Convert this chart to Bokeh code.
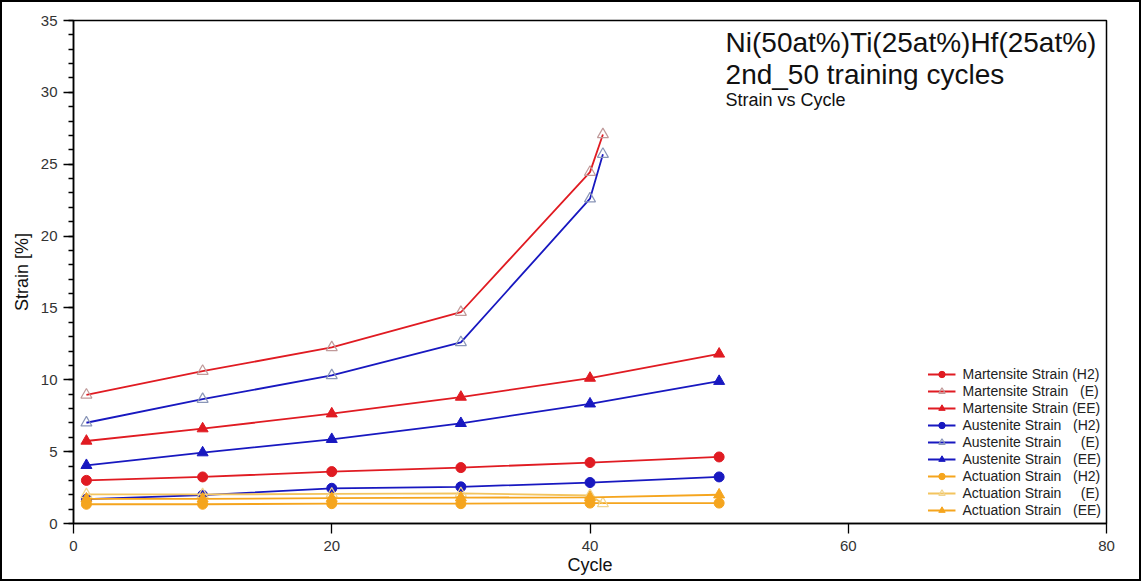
from bokeh.plotting import figure
from bokeh.models import (Range1d, FixedTicker, SingleIntervalTicker, Legend, LegendItem,
                          Label)
from bokeh.layouts import column
from bokeh.embed import file_html
from bokeh.resources import INLINE

# ---------------- data ----------------
cycles_full = [1, 10, 20, 30, 40, 50]
cycles_e = [1, 10, 20, 30, 40, 41]

mart_h2 = [3.0, 3.24, 3.61, 3.89, 4.24, 4.63]
mart_e = [8.95, 10.6, 12.25, 14.7, 24.45, 27.07]
mart_ee = [5.74, 6.6, 7.64, 8.8, 10.12, 11.8]

aust_h2 = [1.69, 1.97, 2.45, 2.55, 2.85, 3.24]
aust_e = [7.01, 8.65, 10.3, 12.6, 22.6, 25.7]
aust_ee = [4.05, 4.93, 5.86, 6.97, 8.33, 9.9]

act_h2 = [1.34, 1.34, 1.38, 1.38, 1.42, 1.42]
act_e = [2.02, 2.02, 2.06, 2.1, 1.95, 1.39]
act_ee = [1.72, 1.72, 1.76, 1.8, 1.82, 2.0]

legend_labels = [
    "Martensite Strain (H2)",
    "Martensite Strain\u00a0\u00a0\u00a0(E)",
    "Martensite Strain (EE)",
    "Austenite Strain\u00a0\u00a0\u00a0(H2)",
    "Austenite Strain\u00a0\u00a0\u00a0\u00a0\u00a0(E)",
    "Austenite Strain\u00a0\u00a0\u00a0(EE)",
    "Actuation Strain\u00a0\u00a0\u00a0(H2)",
    "Actuation Strain\u00a0\u00a0\u00a0\u00a0\u00a0(E)",
    "Actuation Strain\u00a0\u00a0\u00a0(EE)",
]

title_lines = ["Ni(50at%)Ti(25at%)Hf(25at%)", "2nd_50 training cycles", "Strain vs Cycle"]
x_ticks = [0, 20, 40, 60, 80]

FONT = "Liberation Sans"
RED = "#E01B22"
BLUE = "#1818C0"
ORANGE = "#F5A51E"
ORANGE_LIGHT = "#F3C45E"

p = figure(width=1137, height=577, output_backend="svg", toolbar_location=None,
           x_range=Range1d(0, 80), y_range=Range1d(0, 35),
           min_border_left=71, min_border_right=33, min_border_top=18, min_border_bottom=56)
p.background_fill_color = "white"
p.border_fill_color = "white"
p.xgrid.visible = False
p.ygrid.visible = False
p.outline_line_color = "black"
p.outline_line_width = 1.5

p.xaxis.ticker = FixedTicker(ticks=x_ticks)
p.yaxis.ticker = SingleIntervalTicker(interval=5, num_minor_ticks=5)
for ax in (p.xaxis[0], p.yaxis[0]):
    ax.axis_line_color = "black"
    ax.axis_line_width = 1.5
    ax.major_tick_line_color = "black"
    ax.major_tick_line_width = 1.3
    ax.minor_tick_line_color = "black"
    ax.minor_tick_line_width = 1.3
    ax.major_tick_in = 0
    ax.major_tick_out = 10
    ax.minor_tick_in = 0
    ax.minor_tick_out = 5
    ax.major_label_text_font = FONT
    ax.major_label_text_font_size = "15px"
    ax.major_label_text_color = "#333333"
    ax.axis_label_text_font = FONT
    ax.axis_label_text_font_size = "18px"
    ax.axis_label_text_font_style = "normal"
    ax.axis_label_text_color = "#111111"
p.xaxis.minor_tick_line_color = None
p.xaxis.major_label_standoff = 7
p.yaxis.major_label_standoff = 6
p.xaxis.axis_label = "Cycle"
p.yaxis.axis_label = "Strain [%]"
p.xaxis.axis_label_standoff = 1
p.yaxis.axis_label_standoff = 6

series = [
    (cycles_full, mart_h2, RED, RED, "circle", RED, 10),
    (cycles_e, mart_e, RED, "#C09A9A", "triangle", None, 11),
    (cycles_full, mart_ee, RED, RED, "triangle", RED, 11),
    (cycles_full, aust_h2, BLUE, BLUE, "circle", BLUE, 10),
    (cycles_e, aust_e, BLUE, "#8A96B8", "triangle", None, 11),
    (cycles_full, aust_ee, BLUE, BLUE, "triangle", BLUE, 11),
    (cycles_full, act_h2, ORANGE, ORANGE, "circle", ORANGE, 10),
    (cycles_e, act_e, ORANGE_LIGHT, "#F0D48E", "triangle", None, 11),
    (cycles_full, act_ee, ORANGE, ORANGE, "triangle", ORANGE, 11),
]

items = []
for (xs, ys, lc, mc, mk, fc, sz), lab in zip(series, legend_labels):
    r1 = p.line(xs, ys, line_color=lc, line_width=1.8)
    if fc is None:
        r2 = p.scatter(xs, ys, marker=mk, size=sz, line_color=mc, fill_color="white",
                       fill_alpha=0.0, line_width=1.2)
    else:
        r2 = p.scatter(xs, ys, marker=mk, size=sz, line_color=mc, fill_color=fc, line_width=1)
    items.append(LegendItem(label=lab, renderers=[r1, r2]))

legend = Legend(items=items, location="bottom_right")
legend.margin = 0
legend.padding = 5
legend.border_line_alpha = 0
legend.background_fill_alpha = 0
legend.label_text_font = FONT
legend.label_text_font_size = "14px"
legend.label_text_color = "#222222"
legend.label_height = 16
legend.glyph_height = 16
legend.glyph_width = 28
legend.spacing = 1
legend.label_standoff = 7
p.add_layout(legend)

label_specs = [(title_lines[0], 34.55, "28px"), (title_lines[1], 32.3, "28px"), (title_lines[2], 30.15, "18px")]
for txt, yy, fs in label_specs:
    p.add_layout(Label(x=50.5, y=yy, text=txt, text_font=FONT, text_font_size=fs,
                       text_baseline="top", text_align="left", text_color="#111111"))

layout = column(p, styles={"border": "2px solid black"})

open("out.html", "w").write(file_html(layout, INLINE))
